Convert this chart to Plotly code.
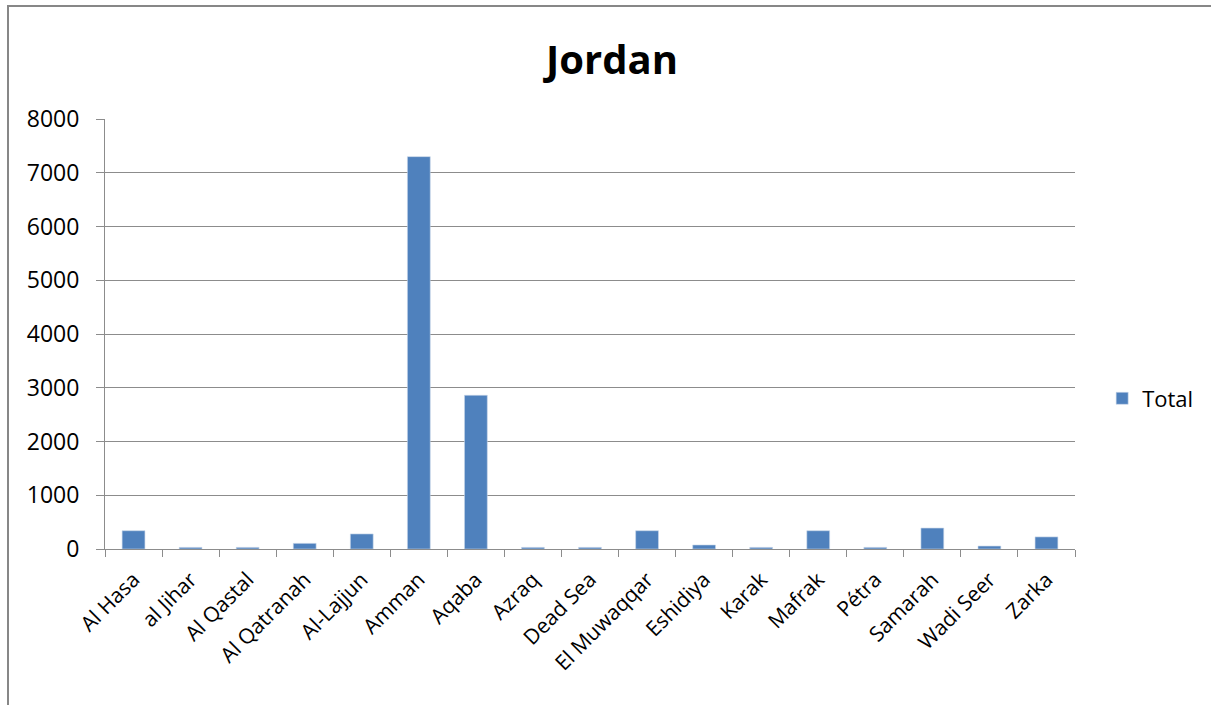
import plotly.graph_objects as go

# Sites and their totals
sites = ["Al Hasa", "al Jihar", "Al Qastal", "Al Qatranah", "Al-Lajjun", "Amman",
         "Aqaba", "Azraq", "Dead Sea", "El Muwaqqar", "Eshidiya", "Karak",
         "Mafrak", "Pétra", "Samarah", "Wadi Seer", "Zarka"]
totals = [340, 30, 30, 105, 280, 7300, 2860, 30, 30, 340, 75, 30, 340, 30, 390, 55, 225]

y_ticks = [0, 1000, 2000, 3000, 4000, 5000, 6000, 7000, 8000]

FONT = "Open Sans"
GRID = "#8c8c8c"

fig = go.Figure(
    go.Bar(
        x=sites,
        y=totals,
        name="Total",
        marker=dict(color="#4f81bd", line=dict(color="#c9d6ea", width=0.6)),
        showlegend=True,
    )
)

fig.update_layout(
    width=1211,
    height=705,
    paper_bgcolor="white",
    plot_bgcolor="white",
    margin=dict(l=105, r=136, t=119, b=156),
    bargap=0.6,
    font=dict(family=FONT, color="#000000"),
    title=dict(
        text="<b>Jordan</b>",
        font=dict(family=FONT, size=40, color="#000000"),
        x=(612 - 105) / 970,
        xanchor="center",
        xref="paper",
        y=1 - 60 / 705,
        yref="container",
        yanchor="middle",
    ),
    legend=dict(
        x=1.028,
        y=0.35,
        xanchor="left",
        yanchor="middle",
        font=dict(family=FONT, size=22, color="#000000"),
        itemwidth=30,
        bgcolor="rgba(0,0,0,0)",
    ),
    showlegend=True,
    shapes=[
        dict(
            type="rect",
            xref="paper",
            yref="paper",
            x0=-0.1,
            x1=1.3,
            y0=-0.6,
            y1=(549 - 6) / 430,
            line=dict(color="#878787", width=2),
            fillcolor="rgba(0,0,0,0)",
            layer="below",
        )
    ],
)

fig.update_xaxes(
    type="category",
    tickangle=-45,
    tickfont=dict(family=FONT, size=21, color="#000000"),
    showline=True,
    linecolor=GRID,
    linewidth=1,
    ticks="outside",
    tickson="boundaries",
    ticklen=7,
    tickcolor=GRID,
    showgrid=False,
    ticklabelstandoff=9,
)

fig.update_yaxes(
    range=[0, 8000],
    tickvals=y_ticks,
    tickfont=dict(family=FONT, size=23, color="#000000"),
    showline=True,
    linecolor=GRID,
    linewidth=1,
    ticks="outside",
    ticklen=8,
    tickcolor=GRID,
    showgrid=True,
    gridcolor=GRID,
    gridwidth=1,
    zeroline=False,
    ticklabelstandoff=12,
)

fig.write_html("out.html")
